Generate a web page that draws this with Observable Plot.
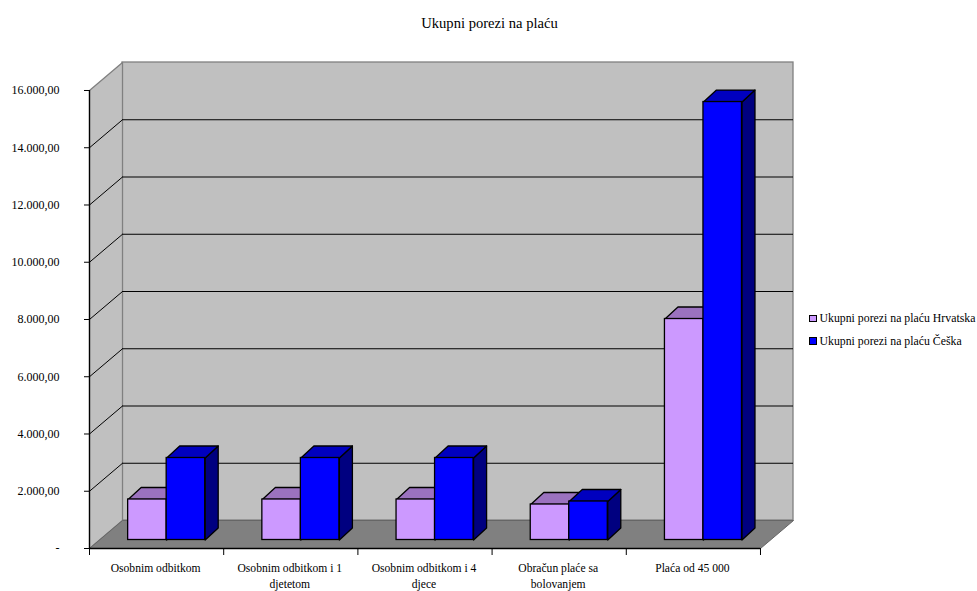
<!DOCTYPE html>
<html>
<head>
<meta charset="utf-8">
<script src="https://cdn.jsdelivr.net/npm/d3@7"></script>
<script src="https://cdn.jsdelivr.net/npm/@observablehq/plot@0.6"></script>
<style>
  html, body { margin: 0; padding: 0; background: #fff; }
  body { position: relative; width: 977px; height: 591px; overflow: hidden; font-family: "Liberation Serif", serif; color: #000; }
  #title { position: absolute; left: 0; top: 13.5px; width: 979px; text-align: center; font-size: 14.6px; line-height: 18px; }
  #chart { position: absolute; left: 0; top: 0; }
  #legend { position: absolute; left: 809px; top: 307.5px; font-size: 11.8px; }
  .row { height: 22.4px; line-height: 19px; white-space: nowrap; display: flex; align-items: center; }
  .sw { width: 5.5px; height: 5.5px; border: 1px solid #000; margin-right: 3px; flex: none; }
  svg text { white-space: pre; }
</style>
</head>
<body>
<div id="chart"></div>
<div id="title">Ukupni porezi na plaću</div>
<div id="legend"></div>
<script>
const categories = ["Osobnim odbitkom", "Osobnim odbitkom i 1\ndjetetom", "Osobnim odbitkom i 4\ndjece", "Obračun plaće sa\nbolovanjem", "Plaća od 45 000"];
const hrvatska = [1415, 1415, 1415, 1240, 7720];
const ceska = [2865, 2865, 2865, 1345, 15300];
const seriesNames = ["Ukupni porezi na plaću Hrvatska", "Ukupni porezi na plaću Češka"];
const yTicks = [0, 2000, 4000, 6000, 8000, 10000, 12000, 14000, 16000];
const yMax = 16000;
const nCat = categories.length;

// oblique-projection depth, expressed in data units
const wallDX = 0.246, wallDY = 978;
const barOffsetDX = 0.075, barOffsetDY = 297;
const barDX = 0.097, barDY = 419;
const barW = 0.287;
const palette = [
  {front: "#cc99ff", top: "#9b72bf", side: "#664c80"},
  {front: "#0000ff", top: "#0000bf", side: "#000080"}
];

const fmt = v => v === 0 ? "-" : d3.format(",.2f")(v).replace(/[,.]/g, c => c === "," ? "." : ",");

const series = [hrvatska, ceska];
function poly(points, id) { return [...points, points[0]].map(([x, y]) => ({x, y, id})); }
function faces(values, s) {
  const fronts = [], tops = [], sides = [];
  values.forEach((v, i) => {
    const x0 = i + 0.5 + barOffsetDX + (s - 1) * barW, x1 = x0 + barW;
    const b = barOffsetDY, t = b + v;
    fronts.push({x1: x0, x2: x1, y1: b, y2: t});
    tops.push(...poly([[x0, t], [x1, t], [x1 + barDX, t + barDY], [x0 + barDX, t + barDY]], i));
    sides.push(...poly([[x1, b], [x1 + barDX, b + barDY], [x1 + barDX, t + barDY], [x1, t]], i));
  });
  return {fronts, tops, sides};
}
const barMarks = series.flatMap((vals, s) => {
  const f = faces(vals, s), c = palette[s], st = {stroke: "#000", strokeWidth: 1.3};
  return [
    Plot.line(f.sides, {x: "x", y: "y", z: "id", fill: c.side, ...st}),
    Plot.line(f.tops, {x: "x", y: "y", z: "id", fill: c.top, ...st}),
    Plot.rect(f.fronts, {x1: "x1", x2: "x2", y1: "y1", y2: "y2", fill: c.front, ...st})
  ];
});
const gridTicks = yTicks.filter(v => v > 0 && v < yMax);
const wall = [{x1: wallDX, x2: nCat + wallDX, y1: wallDY, y2: yMax + wallDY}];
const leftWall = poly([[0, 0], [wallDX, wallDY], [wallDX, yMax + wallDY], [0, yMax]], 0);
const floor = poly([[0, 0], [nCat, 0], [nCat + wallDX, wallDY], [wallDX, wallDY]], 0);
const gray = "#808080";

const plot = Plot.plot({
  width: 977, height: 591,
  marginLeft: 89, marginRight: 184, marginTop: 62, marginBottom: 43,
  style: {fontFamily: "Liberation Serif", fontSize: "12px", color: "#000", background: "transparent"},
  x: {domain: [0, nCat + wallDX], axis: null},
  y: {domain: [0, yMax + wallDY], axis: null},
  marks: [
    Plot.rect(wall, {x1: "x1", x2: "x2", y1: "y1", y2: "y2", fill: "#c0c0c0", stroke: gray, strokeWidth: 1.3}),
    Plot.line(leftWall, {x: "x", y: "y", z: "id", fill: "#c0c0c0", stroke: gray, strokeWidth: 1.3}),
    Plot.line(floor, {x: "x", y: "y", z: "id", fill: gray, stroke: "#666", strokeWidth: 1}),
    Plot.ruleY(gridTicks, {x1: wallDX, x2: nCat + wallDX, y: v => v + wallDY, stroke: "#000", strokeWidth: 1}),
    Plot.link(gridTicks, {x1: 0, x2: wallDX, y1: v => v, y2: v => v + wallDY, stroke: "#000", strokeWidth: 1}),
    ...barMarks,
    Plot.ruleX([0], {y1: 0, y2: yMax, stroke: "#000", strokeWidth: 1.3}),
    Plot.ruleY([0], {x1: 0, x2: nCat, stroke: "#000", strokeWidth: 1.3}),
    Plot.axisY({ticks: yTicks, tickFormat: fmt, tickSize: 5, tickPadding: 25, stroke: "#000", label: null, fontSize: 12}),
    Plot.axisX({ticks: d3.range(nCat + 1), tickFormat: () => "", tickSize: 7, stroke: "#000", label: null}),
    Plot.text(categories, {
      x: (d, i) => i + 0.5, y: () => 0, text: d => d,
      dx: -1, dy: 11.5, lineAnchor: "top", lineHeight: 1.42, textAnchor: "middle", fontSize: 11.6, fill: "#000"
    })
  ]
});
document.getElementById("chart").append(plot);

const legend = document.getElementById("legend");
seriesNames.forEach((name, s) => {
  const row = document.createElement("div");
  row.className = "row";
  const sw = document.createElement("span");
  sw.className = "sw";
  sw.style.background = palette[s].front;
  const t = document.createElement("span");
  t.textContent = name;
  row.append(sw, t);
  legend.append(row);
});
</script>
</body>
</html>
